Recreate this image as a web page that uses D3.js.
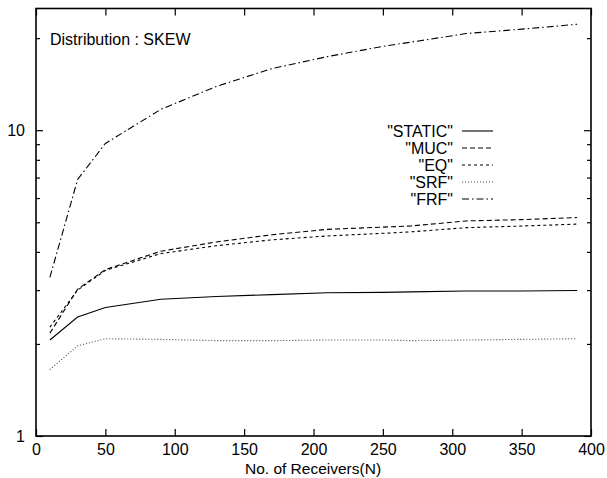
<!DOCTYPE html>
<head>
    <meta charset="utf-8"/>
    <script src="https://d3js.org/d3.v7.min.js"></script>
    <style>
        body { margin: 0; background: #fff; }
        text { font-family: "Liberation Sans", Arial, Helvetica, sans-serif; fill: #000; }
    </style>
</head>
<body>
<svg id="chart" width="607" height="478"></svg>
<script>
    // values
    let receivers = [10, 30, 50, 90, 130, 170, 210, 250, 270, 310, 350, 390];
    let staticVals = [2.06, 2.45, 2.63, 2.80, 2.86, 2.90, 2.94, 2.95, 2.96, 2.98, 2.98, 2.99];
    let mucVals = [2.17, 3.02, 3.50, 4.02, 4.31, 4.55, 4.74, 4.82, 4.86, 5.05, 5.10, 5.18];
    let eqVals = [2.27, 3.00, 3.48, 3.95, 4.19, 4.38, 4.51, 4.60, 4.65, 4.80, 4.86, 4.93];
    let srfVals = [1.65, 1.97, 2.08, 2.07, 2.05, 2.05, 2.06, 2.06, 2.05, 2.06, 2.07, 2.08];
    let frfVals = [3.30, 6.90, 9.05, 11.7, 13.9, 15.9, 17.4, 18.8, 19.4, 20.7, 21.4, 22.2];

    let seriesNames = ['"STATIC"', '"MUC"', '"EQ"', '"SRF"', '"FRF"'];
    let seriesVals = [staticVals, mucVals, eqVals, srfVals, frfVals];
    let dashes = ["none", "5,3", "3,3", "1,2", "7,3,1.5,3"];
    let colors = ["#000", "#000", "#000", "#444", "#000"];

    let xTicks = [0, 50, 100, 150, 200, 250, 300, 350, 400];
    let yMajor = [1, 10];
    let yMinor = [2, 3, 4, 5, 6, 7, 8, 9, 20];

    let mLeft = 36, mRight = 591, mTop = 8.5, mBottom = 436;
    let svg = d3.select("svg#chart");
    let xScale = d3.scaleLinear().domain([0, 400]).range([mLeft, mRight]);
    let yScale = d3.scaleLog().domain([1, 25]).range([mBottom, mTop]);

    // ticks on all four sides, pointing inward
    svg.append("g").attr("transform", "translate(0," + mBottom + ")")
        .call(d3.axisBottom(xScale).tickValues(xTicks).tickSize(-7).tickPadding(8).tickFormat(d3.format("d")));
    svg.append("g").attr("transform", "translate(0," + mTop + ")")
        .call(d3.axisTop(xScale).tickValues(xTicks).tickSize(-7).tickFormat(""));
    svg.append("g").attr("transform", "translate(" + mLeft + ",0)")
        .call(d3.axisLeft(yScale).tickValues(yMajor).tickSize(-7).tickPadding(11).tickFormat(d3.format("d")));
    svg.append("g").attr("transform", "translate(" + mLeft + ",0)")
        .call(d3.axisLeft(yScale).tickValues(yMinor).tickSize(-4).tickFormat(""));
    svg.append("g").attr("transform", "translate(" + mRight + ",0)")
        .call(d3.axisRight(yScale).tickValues(yMajor).tickSize(-7).tickFormat(""));
    svg.append("g").attr("transform", "translate(" + mRight + ",0)")
        .call(d3.axisRight(yScale).tickValues(yMinor).tickSize(-4).tickFormat(""));

    svg.selectAll(".domain").remove();
    svg.selectAll(".tick line").style("stroke", "#000").style("stroke-width", 1.2);
    svg.selectAll(".tick text").style("font-size", "16px").style("font-family", "Liberation Sans, Arial, sans-serif");

    // frame
    svg.append("rect")
        .attr("x", mLeft).attr("y", mTop)
        .attr("width", mRight - mLeft).attr("height", mBottom - mTop)
        .style("fill", "none").style("stroke", "#000").style("stroke-width", 1.6);

    // lines
    let line = d3.line().x((d, i) => xScale(receivers[i])).y(d => yScale(d));
    seriesVals.forEach(function(vals, k) {
        svg.append("path")
            .attr("d", line(vals))
            .style("fill", "none")
            .style("stroke", colors[k])
            .style("stroke-width", 1.1)
            .style("stroke-dasharray", dashes[k]);
    });

    // legend
    seriesNames.forEach(function(name, k) {
        let y = 131 + k * 17;
        svg.append("text")
            .text(name)
            .attr("x", 453).attr("y", y + 5.5)
            .attr("text-anchor", "end")
            .style("font-size", "16px");
        svg.append("line")
            .attr("x1", 462).attr("x2", 493)
            .attr("y1", y).attr("y2", y)
            .style("stroke", colors[k])
            .style("stroke-width", 1.1)
            .style("stroke-dasharray", dashes[k]);
    });

    svg.append("text").text("Distribution : SKEW")
        .attr("x", 50).attr("y", 45).style("font-size", "16px");

    svg.append("text").text("No. of Receivers(N)")
        .attr("x", 313).attr("y", 474)
        .attr("text-anchor", "middle").style("font-size", "15.5px");
</script>
</body>
